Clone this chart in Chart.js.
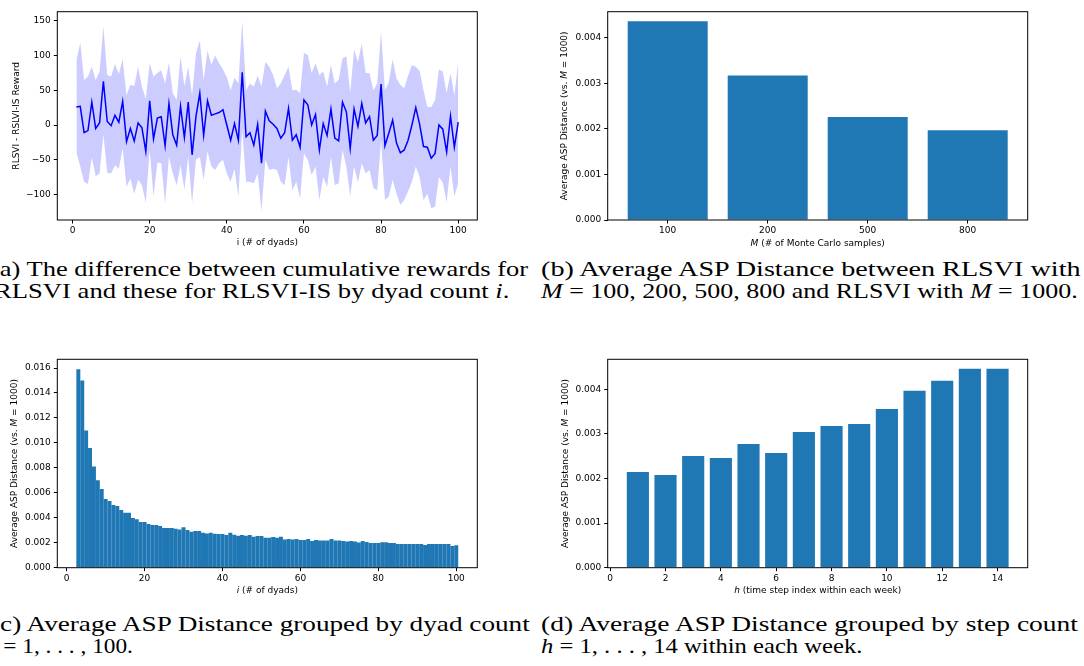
<!DOCTYPE html>
<html>
<head>
<meta charset="utf-8">
<script src="https://cdn.jsdelivr.net/npm/chart.js@4.4.0/dist/chart.umd.min.js"></script>
<style>
  html, body { margin: 0; padding: 0; background: #fff; }
  body { width: 1084px; height: 666px; position: relative; overflow: hidden; }
  .panel { position: absolute; }
  .cap {
    position: absolute; white-space: nowrap; color: #000;
    font-family: "Liberation Serif", "Times New Roman", Times, serif; font-size: 21px; line-height: 21px;
    transform-origin: 0 0;
  }
</style>
</head>
<body>
<div class="panel" style="left:0;top:0;width:540px;height:250px"><canvas id="chartA"></canvas></div>
<div class="panel" style="left:540px;top:0;width:544px;height:250px"><canvas id="chartB"></canvas></div>
<div class="panel" style="left:0;top:320px;width:540px;height:280px"><canvas id="chartC"></canvas></div>
<div class="panel" style="left:540px;top:320px;width:544px;height:280px"><canvas id="chartD"></canvas></div>

<div class="cap" style="left:-9px;top:259px" data-w="537">(a) The difference between cumulative rewards for</div>
<div class="cap" style="left:-6px;top:281px" data-w="516">RLSVI and these for RLSVI-IS by dyad count <i>i</i>.</div>
<div class="cap" style="left:541px;top:259px" data-w="539">(b) Average ASP Distance between RLSVI with</div>
<div class="cap" style="left:541px;top:281px" data-w="537"><i>M</i> = 100, 200, 500, 800 and RLSVI with <i>M</i> = 1000.</div>
<div class="cap" style="left:-9px;top:614px" data-w="539">(c) Average ASP Distance grouped by dyad count</div>
<div class="cap" style="left:-9px;top:636px" data-w="142"><i>i</i> = 1, . . . , 100.</div>
<div class="cap" style="left:541px;top:614px" data-w="537">(d) Average ASP Distance grouped by step count</div>
<div class="cap" style="left:541px;top:636px" data-w="321"><i>h</i> = 1, . . . , 14 within each week.</div>

<script>
// (a) 報酬差：dyad番号・平均・上下の帯
const dyadA = [1,2,3,4,5,6,7,8,9,10,11,12,13,14,15,16,17,18,19,20,
  21,22,23,24,25,26,27,28,29,30,31,32,33,34,35,36,37,38,39,40,
  41,42,43,44,45,46,47,48,49,50,51,52,53,54,55,56,57,58,59,60,
  61,62,63,64,65,66,67,68,69,70,71,72,73,74,75,76,77,78,79,80,
  81,82,83,84,85,86,87,88,89,90,91,92,93,94,95,96,97,98,99,100];
const meanA = [26,27,-11,-8,33,-5,3,63,5,-1,
  14,4,34,-24,-5,-23,3,-4,-38,35,
  -20,10,12,-30,31,-14,-29,27,-18,33,
  -43,12,46,-15,35,14,16,18,22,0,
  -22,2,-22,76,-17,-11,-29,1,-55,20,
  6,1,-5,-19,-11,24,-22,-14,-32,36,
  29,0,15,-36,2,-15,23,-19,-23,33,
  19,-34,23,-2,31,3,12,-22,-15,59,
  -30,-12,7,-26,-40,-36,-22,0,25,1,
  -31,-32,-48,-41,0,-6,-39,13,-32,4];
const upperA = [93,119,65,70,84,65,77,142,72,70,
  88,74,95,43,58,56,84,55,38,89,
  70,75,79,60,90,46,36,99,56,84,
  43,103,122,65,107,87,100,89,80,69,
  50,68,60,150,50,60,55,71,56,91,
  84,72,53,60,72,84,50,51,46,104,
  101,75,89,72,77,55,87,60,65,96,
  99,46,109,91,118,75,75,50,60,135,
  50,62,95,67,58,53,71,86,84,78,
  50,26,26,36,80,77,46,75,43,91];
const lowerA = [-40,-60,-82,-85,-47,-74,-70,-14,-69,-70,
  -58,-63,-34,-89,-77,-99,-79,-87,-112,-36,
  -103,-54,-55,-113,-46,-70,-87,-58,-93,-46,
  -113,-50,-46,-79,-38,-60,-65,-55,-50,-70,
  -82,-63,-103,-7,-82,-82,-84,-70,-124,-50,
  -65,-63,-65,-82,-87,-46,-94,-82,-106,-41,
  -50,-72,-60,-108,-75,-89,-46,-87,-84,-36,
  -60,-103,-60,-83,-55,-70,-65,-91,-94,-22,
  -108,-103,-79,-99,-115,-108,-96,-82,-60,-75,
  -108,-99,-120,-118,-75,-83,-111,-60,-103,-84];
const xTicksA = [0,20,40,60,80,100];
const yTicksA = [-100,-50,0,50,100,150];

// (b) Mごとの平均ASP距離
const mLabels = ['100','200','500','800'];
const mPos = [0,1,2,3];
const aspByM = [0.00436,0.00317,0.00226,0.00197];
const yTicksB = [0,0.001,0.002,0.003,0.004];

// (c) dyad数ごとの平均ASP距離
const dyadC = [3,4,5,6,7,8,9,10,11,12,13,14,15,16,17,18,19,20,
  21,22,23,24,25,26,27,28,29,30,31,32,33,34,35,36,37,38,39,40,
  41,42,43,44,45,46,47,48,49,50,51,52,53,54,55,56,57,58,59,60,
  61,62,63,64,65,66,67,68,69,70,71,72,73,74,75,76,77,78,79,80,
  81,82,83,84,85,86,87,88,89,90,91,92,93,94,95,96,97,98,99,100];
const aspByDyad = [0.0159,0.0150,0.0110,0.0096,0.0081,0.0070,0.0063,0.0055,
  0.00535,0.00503,0.00495,0.00463,0.00441,0.00441,0.00398,0.00388,0.00366,0.00366,
  0.00350,0.00342,0.00342,0.00334,0.00318,0.00318,0.00318,0.00313,0.00307,0.00324,
  0.00302,0.00289,0.00294,0.00294,0.00281,0.00275,0.00281,0.00273,0.00270,0.00270,
  0.00262,0.00281,0.00265,0.00257,0.00262,0.00257,0.00262,0.00249,0.00254,0.00254,
  0.00241,0.00241,0.00246,0.00241,0.00249,0.00225,0.00230,0.00225,0.00230,0.00222,
  0.00222,0.00230,0.00214,0.00222,0.00217,0.00217,0.00217,0.00230,0.00217,0.00217,
  0.00214,0.00209,0.00214,0.00209,0.00201,0.00214,0.00206,0.00198,0.00198,0.00198,
  0.00203,0.00203,0.00198,0.00198,0.00190,0.00190,0.00190,0.00190,0.00190,0.00190,
  0.00190,0.00182,0.00190,0.00190,0.00190,0.00190,0.00190,0.00190,0.00174,0.00179];
const xTicksC = [0,20,40,60,80,100];
const yTicksC = [0,0.002,0.004,0.006,0.008,0.010,0.012,0.014,0.016];

// (d) ステップhごとの平均ASP距離
const stepH = [1,2,3,4,5,6,7,8,9,10,11,12,13,14];
const aspByStep = [0.002146,0.002079,0.002505,0.00246,0.002774,0.002572,0.003043,
  0.003178,0.003222,0.003559,0.003963,0.004187,0.004456,0.004456];
const xTicksD = [0,2,4,6,8,10,12,14];
const yTicksD = [0,0.001,0.002,0.003,0.004];

const BAR_COLOR = '#1f77b4';
const TICK_FONT = { family: 'DejaVu Sans', size: 9 };

// 枠線と軸ラベル（斜体混在）を描くプラグイン
const framePlugin = {
  id: 'frame',
  afterDraw(chart, args, opts) {
    const { ctx, chartArea: a } = chart;
    ctx.save();
    ctx.strokeStyle = '#000';
    ctx.lineWidth = 1;
    ctx.strokeRect(a.left, a.top, a.right - a.left, a.bottom - a.top);
    ctx.restore();
    if (opts.xTitle) drawRich(ctx, opts.xTitle, (a.left + a.right) / 2, opts.xTitleY, false);
    if (opts.yTitle) drawRich(ctx, opts.yTitle, opts.yTitleX, (a.top + a.bottom) / 2, true);
  }
};

function drawRich(ctx, segs, x, y, rotate) {
  ctx.save();
  ctx.translate(x, y);
  if (rotate) ctx.rotate(-Math.PI / 2);
  ctx.fillStyle = '#000';
  ctx.textBaseline = 'middle';
  ctx.textAlign = 'left';
  const fontOf = s => (s[1] ? 'italic ' : '') + '9px "DejaVu Sans"';
  let total = 0;
  segs.forEach(s => { ctx.font = fontOf(s); total += ctx.measureText(s[0]).width; });
  let cx = -total / 2;
  segs.forEach(s => {
    ctx.font = fontOf(s);
    ctx.fillText(s[0], cx, 0);
    cx += ctx.measureText(s[0]).width;
  });
  ctx.restore();
}

function axis(min, max, tickVals, fmt, fitSize, isX) {
  return {
    type: 'linear', min: min, max: max, offset: false,
    afterBuildTicks: s => { s.ticks = tickVals.map(v => ({ value: v })); },
    afterFit: s => { if (isX) s.height = fitSize; else s.width = fitSize; },
    grid: { offset: false, drawOnChartArea: false, drawTicks: true, tickLength: 3.5, color: '#000', lineWidth: 1 },
    border: { display: false },
    ticks: { color: '#000', font: TICK_FONT, padding: isX ? 2 : 3, autoSkip: false, maxRotation: 0, callback: fmt }
  };
}

const minus = v => String(v).replace('-', '\u2212');
const fix3 = v => v.toFixed(3);
const yTitleASP = [['Average ASP Distance (vs. ', false], ['M', true], [' = 1000)', false]];

function baseOptions(pad, scales, titles) {
  return {
    responsive: true,
    maintainAspectRatio: false,
    animation: false,
    layout: { padding: pad },
    plugins: { legend: { display: false }, tooltip: { enabled: false }, frame: titles },
    scales: scales
  };
}

// (a)
new Chart(document.getElementById('chartA'), {
  type: 'line',
  data: {
    datasets: [
      { data: dyadA.map((x, k) => ({ x: x, y: meanA[k] })), borderColor: '#0000ff', borderWidth: 1.5, pointRadius: 0, fill: false, tension: 0 },
      { data: dyadA.map((x, k) => ({ x: x, y: upperA[k] })), borderWidth: 0, borderColor: 'rgba(0,0,0,0)', pointRadius: 0, fill: '+1', backgroundColor: 'rgba(0,0,255,0.2)', tension: 0 },
      { data: dyadA.map((x, k) => ({ x: x, y: lowerA[k] })), borderWidth: 0, borderColor: 'rgba(0,0,0,0)', pointRadius: 0, fill: false, tension: 0 }
    ]
  },
  options: baseOptions({ left: 0, top: 11.7, right: 62.7, bottom: 0 }, {
    x: axis(-3.95, 104.95, xTicksA, v => v, 30, true),
    y: axis(-137, 163.4, yTicksA, minus, 57.3, false)
  }, { xTitle: [['i (# of dyads)', false]], xTitleY: 243, yTitle: [['RLSVI - RSLVI-IS Reward', false]], yTitleX: 16.7 }),
  plugins: [framePlugin]
});

// (b)
new Chart(document.getElementById('chartB'), {
  type: 'bar',
  data: {
    datasets: [{ data: mPos.map((x, k) => ({ x: x, y: aspByM[k] })), backgroundColor: BAR_COLOR, barPercentage: 0.8, categoryPercentage: 1 }]
  },
  options: baseOptions({ left: 0, top: 11.7, right: 56.3, bottom: 0 }, {
    x: axis(-0.6, 3.6, mPos, v => mLabels[v], 30, true),
    y: axis(0, 0.00457, yTicksB, fix3, 67.7, false)
  }, { xTitle: [['M', true], [' (# of Monte Carlo samples)', false]], xTitleY: 243.3, yTitle: yTitleASP, yTitleX: 24.3 }),
  plugins: [framePlugin]
});

// (c)
new Chart(document.getElementById('chartC'), {
  type: 'bar',
  data: {
    datasets: [{ data: dyadC.map((x, k) => ({ x: x, y: aspByDyad[k] })), backgroundColor: BAR_COLOR, barPercentage: 1.02, categoryPercentage: 1 }]
  },
  options: baseOptions({ left: 0, top: 39.3, right: 62.7, bottom: 0 }, {
    x: axis(-2.4, 105.4, xTicksC, v => v, 32.3, true),
    y: axis(0, 0.0167, yTicksC, fix3, 57.3, false)
  }, { xTitle: [['i', true], [' (# of dyads)', false]], xTitleY: 270.7, yTitle: yTitleASP, yTitleX: 15 }),
  plugins: [framePlugin]
});

// (d)
new Chart(document.getElementById('chartD'), {
  type: 'bar',
  data: {
    datasets: [{ data: stepH.map((x, k) => ({ x: x, y: aspByStep[k] })), backgroundColor: BAR_COLOR, barPercentage: 0.8, categoryPercentage: 1 }]
  },
  options: baseOptions({ left: 0, top: 39.3, right: 56.3, bottom: 0 }, {
    x: axis(-0.09, 15.09, xTicksD, v => v, 32.3, true),
    y: axis(0, 0.00467, yTicksD, fix3, 67.7, false)
  }, { xTitle: [['h', true], [' (time step index within each week)', false]], xTitleY: 271, yTitle: yTitleASP, yTitleX: 26 }),
  plugins: [framePlugin]
});

// キャプションの幅を合わせる
document.querySelectorAll('.cap').forEach(el => {
  const target = parseFloat(el.dataset.w);
  const natural = el.offsetWidth;
  if (natural > 0) el.style.transform = 'scaleX(' + (target / natural) + ')';
});
</script>
</body>
</html>
